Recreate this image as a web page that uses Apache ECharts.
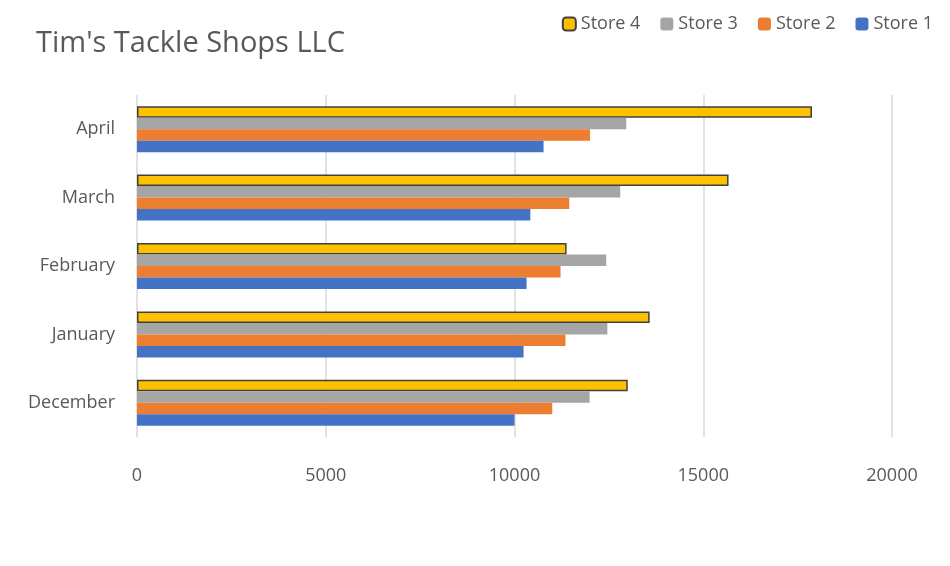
<!DOCTYPE html>
<html>
<head>
<meta charset="utf-8">
<script src="https://cdn.jsdelivr.net/npm/echarts@6/dist/echarts.min.js"></script>
<style>html,body{margin:0;padding:0;background:#fff}#chart{width:950px;height:566px}</style>
</head>
<body>
<div id="chart"></div>
<script>
const months = ['December', 'January', 'February', 'March', 'April'];
const store1 = [10000, 10240, 10320, 10420, 10770];
const store2 = [11000, 11350, 11220, 11450, 12000];
const store3 = [11990, 12460, 12430, 12800, 12960];
const store4 = [13000, 13580, 11380, 15670, 17880];
const xTicks = [0, 5000, 10000, 15000, 20000];

const font = 'Open Sans, Calibri, sans-serif';
const bar = (name, data, color, border) => ({
  type: 'bar', name, data, barWidth: 11.5, barGap: '0%',
  itemStyle: border ? {color, borderColor: '#404040', borderWidth: 1.5} : {color}
});

const chart = echarts.init(document.getElementById('chart'));
chart.setOption({
  animation: false,
  title: {
    text: "Tim's Tackle Shops LLC", left: 31, top: 24,
    textStyle: {fontFamily: font, fontSize: 29, fontWeight: 'normal', color: '#595959'}
  },
  legend: {
    data: ['Store 4', 'Store 3', 'Store 2', 'Store 1'],
    right: 12, top: 10, itemWidth: 13, itemHeight: 13, itemGap: 20,
    textStyle: {fontFamily: font, fontSize: 18, color: '#595959'}
  },
  grid: {left: 137, right: 58, top: 95, bottom: 129},
  xAxis: {
    type: 'value', min: xTicks[0], max: xTicks[xTicks.length - 1], interval: 5000,
    axisLine: {show: false}, axisTick: {show: false},
    axisLabel: {fontFamily: font, fontSize: 18, color: '#595959', margin: 30, formatter: v => String(v)},
    splitLine: {lineStyle: {color: '#d9d9d9', width: 1.5}}
  },
  yAxis: {
    type: 'category', data: months,
    axisLine: {show: false}, axisTick: {show: false},
    axisLabel: {fontFamily: font, fontSize: 18, color: '#595959', margin: 22}
  },
  series: [
    bar('Store 4', store4, '#ffc000', true),
    bar('Store 3', store3, '#a5a5a5'),
    bar('Store 2', store2, '#ed7d31'),
    bar('Store 1', store1, '#4472c4')
  ]
});
</script>
</body>
</html>
